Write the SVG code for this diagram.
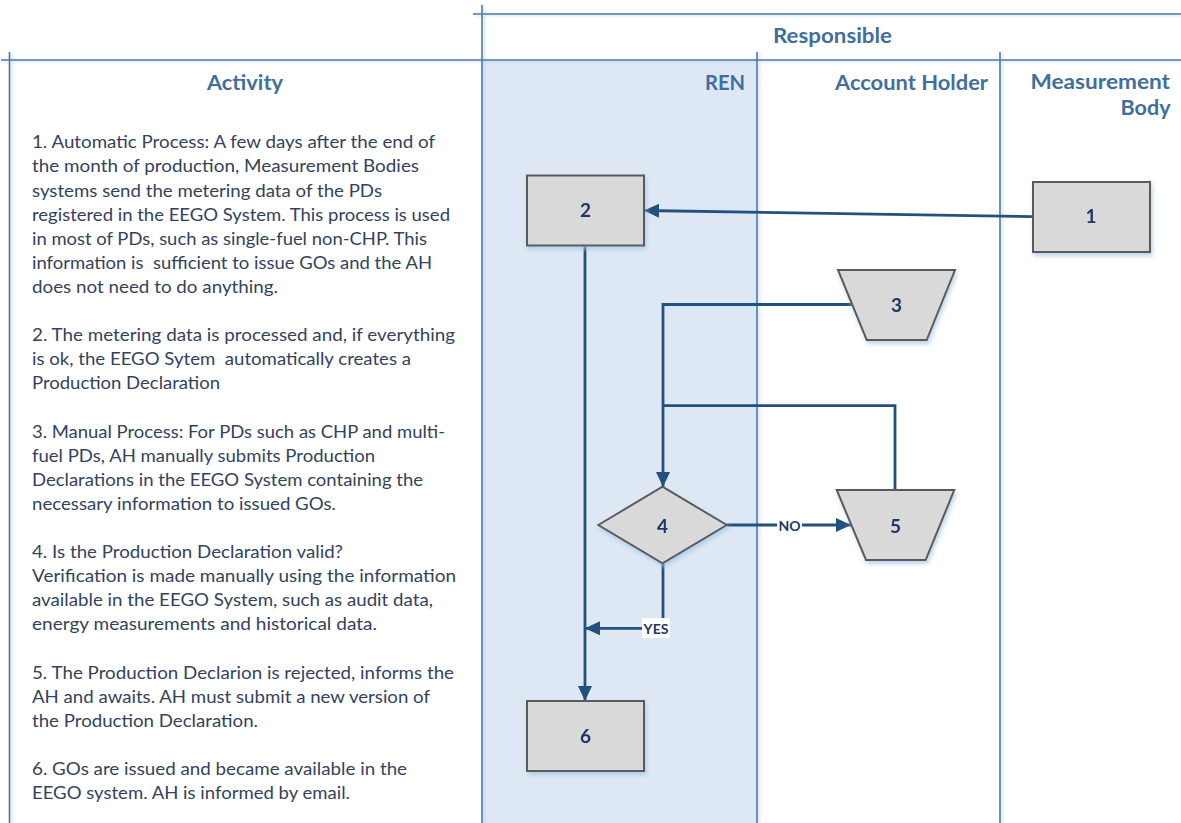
<svg xmlns="http://www.w3.org/2000/svg" width="1181" height="823" viewBox="0 0 1181 823">
<defs>
<style>
.hdr{font-family:Lato,"Liberation Sans",sans-serif;font-weight:bold;font-size:20px;fill:#3f6e9f}
.body{font-family:Lato,"Liberation Sans",sans-serif;font-size:17px;fill:#33425e;white-space:pre}
.lane{stroke:#4a78a8;stroke-width:1.6;fill:none}
.node{fill:#d9d9d9;stroke:#5a5a5a;stroke-width:2}
.nl{font-family:Lato,"Liberation Sans",sans-serif;font-weight:bold;font-size:19px;fill:#1f3864;text-anchor:middle}
.conn{stroke:#22507f;stroke-width:2.8;fill:none}
.cl{font-family:Lato,"Liberation Sans",sans-serif;font-weight:bold;font-size:14px;fill:#1f3864;text-anchor:middle}
</style>
<filter id="sh" x="-20%" y="-20%" width="140%" height="150%">
<feDropShadow dx="1.5" dy="3" stdDeviation="2" flood-color="#9dc3e6" flood-opacity="0.7"/>
</filter>
<filter id="lg" x="-50%" y="-5%" width="300%" height="110%">
<feDropShadow dx="2" dy="1" stdDeviation="1.5" flood-color="#9dc3e6" flood-opacity="0.6"/>
</filter>
<marker id="arr" markerUnits="userSpaceOnUse" markerWidth="15" markerHeight="14" refX="15" refY="7" orient="auto">
<path d="M0,0 L15,7 L0,14 z" fill="#22507f"/>
</marker>
</defs>
<rect width="1181" height="823" fill="#ffffff"/>
<g id="swimlanes">
<rect x="482" y="60" width="275" height="763" fill="#dde8f4"/>
<g filter="url(#lg)">
<line class="lane" x1="473" y1="14" x2="1181" y2="14"/>
<line class="lane" x1="482" y1="5" x2="482" y2="823"/>
<line class="lane" x1="1" y1="60" x2="1181" y2="60"/>
<line class="lane" x1="9.5" y1="52" x2="9.5" y2="823"/>
<line class="lane" x1="757" y1="52" x2="757" y2="823"/>
<line class="lane" x1="1000" y1="52" x2="1000" y2="823"/>
</g>
<text class="hdr" x="773" y="43" textLength="119" lengthAdjust="spacingAndGlyphs">Responsible</text>
<text class="hdr" x="207" y="90" textLength="76" lengthAdjust="spacingAndGlyphs">Activity</text>
<text class="hdr" x="705" y="90" textLength="40" lengthAdjust="spacingAndGlyphs">REN</text>
<text class="hdr" x="835" y="90" textLength="153" lengthAdjust="spacingAndGlyphs">Account Holder</text>
<text class="hdr" x="1030.5" y="89" textLength="139.5" lengthAdjust="spacingAndGlyphs">Measurement</text>
<text class="hdr" x="1120.5" y="115" textLength="50" lengthAdjust="spacingAndGlyphs">Body</text>
</g>
<g id="activity-text">
<text class="body" x="32" y="148.3" textLength="403" lengthAdjust="spacingAndGlyphs">1. Automatic Process: A few days after the end of</text>
<text class="body" x="32" y="172.4" textLength="387" lengthAdjust="spacingAndGlyphs">the month of production, Measurement Bodies</text>
<text class="body" x="32" y="196.5" textLength="350" lengthAdjust="spacingAndGlyphs">systems send the metering data of the PDs</text>
<text class="body" x="32" y="220.6" textLength="418" lengthAdjust="spacingAndGlyphs">registered in the EEGO System. This process is used</text>
<text class="body" x="32" y="244.7" textLength="395" lengthAdjust="spacingAndGlyphs">in most of PDs, such as single-fuel non-CHP. This</text>
<text class="body" x="32" y="268.8" textLength="400" lengthAdjust="spacingAndGlyphs">information is  sufficient to issue GOs and the AH</text>
<text class="body" x="32" y="292.9" textLength="246" lengthAdjust="spacingAndGlyphs">does not need to do anything.</text>
<text class="body" x="32" y="341.1" textLength="423" lengthAdjust="spacingAndGlyphs">2. The metering data is processed and, if everything</text>
<text class="body" x="32" y="365.2" textLength="379" lengthAdjust="spacingAndGlyphs">is ok, the EEGO Sytem  automatically creates a</text>
<text class="body" x="32" y="389.3" textLength="188" lengthAdjust="spacingAndGlyphs">Production Declaration</text>
<text class="body" x="32" y="437.5" textLength="413" lengthAdjust="spacingAndGlyphs">3. Manual Process: For PDs such as CHP and multi-</text>
<text class="body" x="32" y="461.6" textLength="343" lengthAdjust="spacingAndGlyphs">fuel PDs, AH manually submits Production</text>
<text class="body" x="32" y="485.7" textLength="391" lengthAdjust="spacingAndGlyphs">Declarations in the EEGO System containing the</text>
<text class="body" x="32" y="509.8" textLength="304" lengthAdjust="spacingAndGlyphs">necessary information to issued GOs.</text>
<text class="body" x="32" y="558" textLength="311" lengthAdjust="spacingAndGlyphs">4. Is the Production Declaration valid?</text>
<text class="body" x="32" y="582.1" textLength="424" lengthAdjust="spacingAndGlyphs">Verification is made manually using the information</text>
<text class="body" x="32" y="606.2" textLength="401" lengthAdjust="spacingAndGlyphs">available in the EEGO System, such as audit data,</text>
<text class="body" x="32" y="630.3" textLength="345" lengthAdjust="spacingAndGlyphs">energy measurements and historical data.</text>
<text class="body" x="32" y="678.5" textLength="422" lengthAdjust="spacingAndGlyphs">5. The Production Declarion is rejected, informs the</text>
<text class="body" x="32" y="702.6" textLength="398" lengthAdjust="spacingAndGlyphs">AH and awaits. AH must submit a new version of</text>
<text class="body" x="32" y="726.7" textLength="226" lengthAdjust="spacingAndGlyphs">the Production Declaration.</text>
<text class="body" x="32" y="774.9" textLength="375" lengthAdjust="spacingAndGlyphs">6. GOs are issued and became available in the</text>
<text class="body" x="32" y="799" textLength="318" lengthAdjust="spacingAndGlyphs">EEGO system. AH is informed by email.</text>
</g>
<g id="connectors">
<line class="conn" x1="1033" y1="216.7" x2="644" y2="210.5" marker-end="url(#arr)"/>
<line class="conn" x1="585" y1="245" x2="585" y2="701" marker-end="url(#arr)"/>
<polyline class="conn" points="853,304.5 663,304.5 663,487" marker-end="url(#arr)"/>
<polyline class="conn" points="895,490 895,405.7 663,405.7"/>
<line class="conn" x1="726.7" y1="525" x2="851" y2="525" marker-end="url(#arr)"/>
<polyline class="conn" points="663,563.3 663,628.3 585,628.3" marker-end="url(#arr)"/>
<rect x="777" y="517" width="25" height="17" fill="#ffffff"/>
<text class="cl" x="789.5" y="531">NO</text>
<rect x="642" y="618" width="28" height="20" fill="#ffffff"/>
<text class="cl" x="656" y="634">YES</text>
</g>
<g id="node-1" filter="url(#sh)">
<rect class="node" x="1033" y="182" width="117" height="70"/>
<text class="nl" x="1091" y="223">1</text>
</g>
<g id="node-2" filter="url(#sh)">
<rect class="node" x="527" y="175.5" width="117" height="70"/>
<text class="nl" x="585.5" y="217">2</text>
</g>
<g id="node-3" filter="url(#sh)">
<polygon class="node" points="838,270 955,270 926.7,340 866.7,340"/>
<text class="nl" x="896.5" y="311.5">3</text>
</g>
<g id="node-4" filter="url(#sh)">
<polygon class="node" points="598.3,525 662.5,486.7 726.7,525 662.5,563.3"/>
<text class="nl" x="662.5" y="532.5">4</text>
</g>
<g id="node-5" filter="url(#sh)">
<polygon class="node" points="836.7,490 954.3,490 925.7,560 866,560"/>
<text class="nl" x="895.5" y="532.5">5</text>
</g>
<g id="node-6" filter="url(#sh)">
<rect class="node" x="527" y="701" width="117" height="70"/>
<text class="nl" x="585.5" y="743">6</text>
</g>
</svg>
